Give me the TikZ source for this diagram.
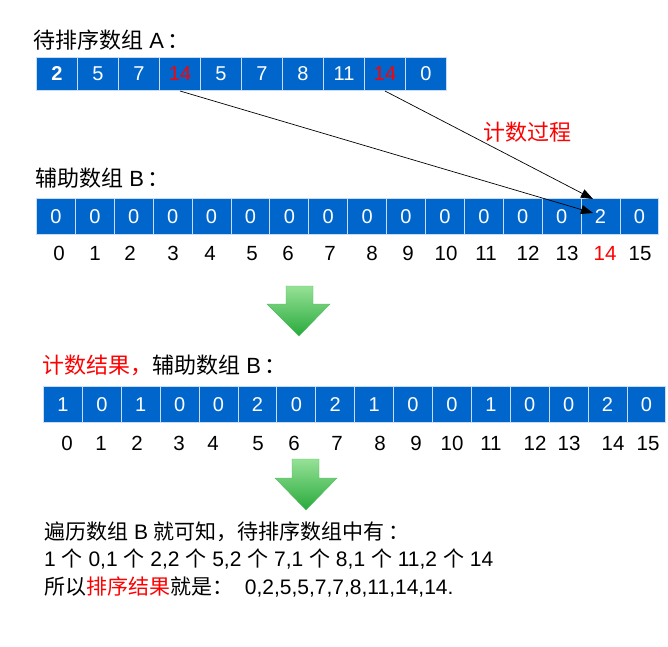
\documentclass[tikz,border=0pt]{standalone}
\usepackage{fontspec}
\setmainfont{Liberation Sans}
\newfontfamily\cjk{Noto Sans CJK SC}
\usetikzlibrary{arrows.meta}
\definecolor{cellblue}{RGB}{0,102,204}
\definecolor{cellline}{RGB}{200,220,245}
\definecolor{hotred}{RGB}{255,0,0}
\definecolor{arrowlight}{RGB}{150,225,150}
\definecolor{arrowdark}{RGB}{40,170,60}
\newcommand{\hilite}[1]{\textcolor{hotred}{#1}}
\newcommand{\wcolon}{\kern4pt{\cjk ：}}
\tikzset{
  acell/.style={draw=cellline, line width=1pt, fill=cellblue, text=white, anchor=north west,
    minimum width=41pt, minimum height=33pt, inner sep=0pt, font=\fontsize{20}{20}\selectfont},
  bcell/.style={acell, minimum width=38.9pt, minimum height=36pt},
  idx/.style={anchor=base, inner sep=0pt, font=\fontsize{20.5}{20}\selectfont},
  heading/.style={anchor=west, inner sep=0pt, font=\fontsize{22}{26}\selectfont},
  remark/.style={anchor=west, inner sep=0pt, font=\fontsize{21}{25}\selectfont},
  count/.style={-{Triangle[length=12pt,width=9pt]}, line width=0.7pt},
  greenarrow/.style={top color=arrowlight, bottom color=arrowdark, draw=arrowdark!80!white, line width=0.4pt}
}

\begin{document}
\begin{tikzpicture}[x=1pt,y=-1pt]
\useasboundingbox (0,0) rectangle (668,646);
% array A
\node[heading] (titleA) at (33,40) {{\cjk 待排序数组} A\wcolon};
\foreach \v [count=\i from 0] in {\textbf{2},5,7,\hilite{14},5,7,8,11,\hilite{14},0}
  \node[acell] (a\i) at ({36+41*\i},57) {\v};
% array B, before counting
\node[heading] (titleB) at (35,178) {{\cjk 辅助数组} B\wcolon};
\foreach \i in {0,...,15}
  \node[bcell] (b\i) at ({36+38.9*\i},198) {\ifnum\i=14 2\else 0\fi};
\foreach \x [count=\i from 0] in {59,95,130,173,210,252,288,330,372,408,446,486,528,567,605,640}
  \node[idx] (bn\i) at (\x,260) {\ifnum\i=14 \color{hotred}\fi\i};
% counting
\coordinate (hitlow) at (593,213);
\coordinate (hithigh) at (593,199);
\draw[count] (a3.south) -- (hitlow);
\draw[count] (a8.south) -- (hithigh);
\node[heading, text=hotred] (cntlabel) at (483,132) {\cjk 计数过程};
\shade[greenarrow] (286,286) -- (313,286) -- (313,304) -- (330,304) -- (299,336) -- (267,304) -- (286,304) -- cycle;
% array B, after counting
\node[heading] (titleC) at (42,365) {\hilite{\cjk 计数结果，}{\cjk 辅助数组} B\wcolon};
\foreach \v [count=\i from 0] in {1,0,1,0,0,2,0,2,1,0,0,1,0,0,2,0}
  \node[bcell] (c\i) at ({43+38.9*\i},386) {\v};
\foreach \x [count=\i from 0] in {67,101,137,179,213,258,294,337,380,416,452,491,535,569,613,648}
  \node[idx] (cn\i) at (\x,450) {\i};
\shade[greenarrow] (292,459) -- (319,459) -- (319,478) -- (337,478) -- (306,510) -- (275,478) -- (292,478) -- cycle;
% reading B
\node[remark] (line1) at (44,532) {{\cjk 遍历数组} B {\cjk 就可知，待排序数组中有}\wcolon};
\node[remark] (line2) at (44,559) {1 {\cjk 个} 0,1 {\cjk 个} 2,2 {\cjk 个} 5,2 {\cjk 个} 7,1 {\cjk 个} 8,1 {\cjk 个} 11,2 {\cjk 个} 14};
\node[remark] (line3) at (44,587) {{\cjk 所以}\hilite{\cjk 排序结果}{\cjk 就是：}\ \ 0,2,5,5,7,7,8,11,14,14.};
\end{tikzpicture}
\end{document}
